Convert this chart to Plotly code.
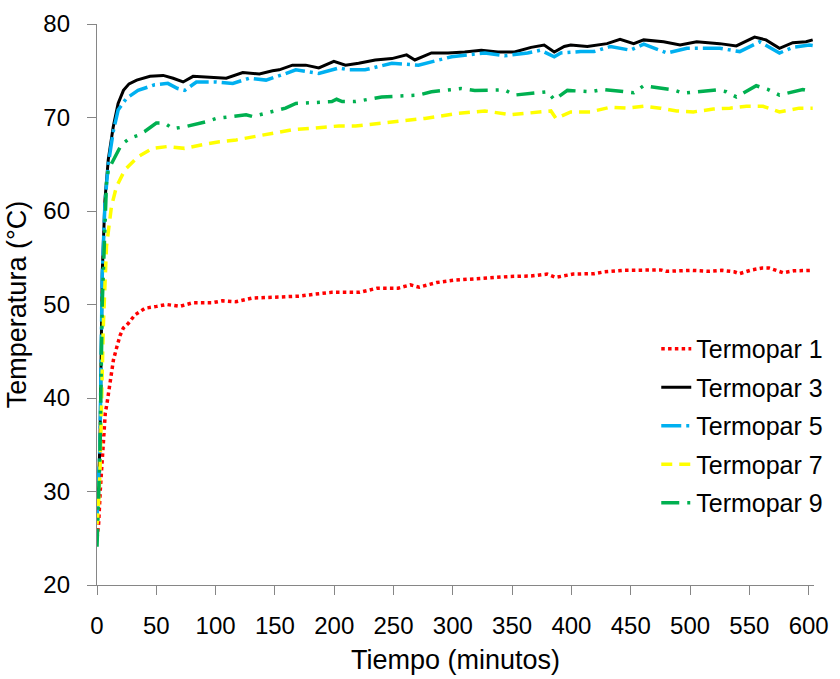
import plotly.graph_objects as go

# ---- data ----
t_tp1 = [0, 1.4, 2.8, 4.2, 5.6, 7.0, 8.4, 11.1, 13.9, 16.8, 19.5, 22.3, 26.5, 32.1, 40.5, 50.3, 58.7, 69.8,
         81, 97.7, 106, 117, 131, 153.6, 171.3, 183.1, 197.9, 221.5, 236.2, 253.9, 264.2, 271.6, 286.4,
         301.1, 312.9, 327.7, 348.4, 366, 379.4, 386.7, 401.5, 419.2, 428, 442.7, 460.5, 475.2, 479.7,
         501.8, 516.6, 526.9, 537.2, 541.6, 552, 560.8, 566.7, 578.5, 587.4, 596.2, 602.1]
tp1 = [25, 26.6, 30.2, 32.7, 36.2, 38.4, 39.4, 41.7, 44.1, 45.5, 46.7, 47.5, 48.0, 48.9, 49.6, 49.8, 50.0, 49.8,
       50.2, 50.2, 50.4, 50.3, 50.7, 50.8, 50.9, 51.1, 51.3, 51.3, 51.75, 51.75, 52.1, 51.85, 52.35,
       52.6, 52.7, 52.9, 53.0, 53.05, 53.25, 52.9, 53.25, 53.3, 53.5, 53.65, 53.65, 53.7, 53.55,
       53.65, 53.55, 53.65, 53.5, 53.3, 53.7, 53.9, 53.9, 53.4, 53.6, 53.6, 53.65]

t_tp3 = [0, 1, 2.5, 4.4, 6.7, 9.5, 13.7, 17.8, 22.3, 27, 33.5, 44.7, 55.8, 64.2, 72.6, 81, 95, 109, 122.9,
         136.9, 148, 153.6, 164.8, 176, 187, 199.7, 209.5, 220.6, 234.6, 248.6, 261, 268, 282, 296, 310,
         324, 338, 352, 366, 377, 385.5, 393.9, 399.4, 413.4, 430, 441, 452.5, 460.9, 477.7, 491.6,
         505.6, 525, 539, 554.4, 564, 575.4, 586.6, 597.8, 603.4]
tp3 = [28, 30, 35.2, 53.3, 61.2, 65.5, 69.0, 71.5, 72.9, 73.6, 74.0, 74.4, 74.5, 74.2, 73.8, 74.4, 74.3, 74.2, 74.8,
       74.65, 75.0, 75.1, 75.6, 75.6, 75.3, 76.0, 75.6, 75.8, 76.15, 76.3, 76.7, 76.15, 76.9, 76.9, 77.0,
       77.2, 77.0, 77.0, 77.5, 77.75, 77.0, 77.6, 77.75, 77.6, 77.9, 78.35, 77.9, 78.3, 78.1, 77.75,
       78.1, 77.9, 77.65, 78.6, 78.3, 77.4, 78.0, 78.1, 78.3]

t_tp5 = [0, 1, 2.5, 4.4, 6.7, 9.5, 13.7, 17.8, 24.8, 34.6, 48.6, 59.7, 68, 74, 83.8, 100.6, 114.5, 128.5,
         142.5, 159, 167.6, 187, 204, 212, 226, 248.6, 271, 299, 315.6, 327, 343.6, 363, 374, 385.5, 391,
         407.8, 419, 433, 449.7, 460.9, 480.6, 497.4, 525, 541.9, 558.6, 575.4, 586.6, 600.5, 603.4]
tp5 = [27, 29.5, 35, 53, 60.8, 65, 68.5, 70.8, 72.05, 72.9, 73.5, 73.65, 73.1, 72.9, 73.8, 73.8, 73.65, 74.2,
       74.0, 74.7, 75.1, 74.7, 75.3, 75.1, 75.1, 75.8, 75.6, 76.5, 76.7, 76.9, 76.6, 76.9, 77.2, 76.5, 76.9,
       77.05, 77.05, 77.6, 77.2, 77.85, 76.9, 77.4, 77.4, 77.05, 78.1, 76.9, 77.5, 77.75, 77.7]

t_tp7 = [0, 1, 2.5, 4, 5.3, 8, 12.2, 16.4, 23.5, 34.6, 47, 59.7, 73.7, 89.3, 103.3, 117.3, 131.2, 148,
         164.8, 181.5, 204, 218, 248.6, 276.5, 304.5, 327, 349, 371.5, 382.7, 387, 399.4, 416, 433, 446.8,
         460.9, 474.8, 488.8, 502.7, 519.6, 533.5, 547.5, 561.5, 575.4, 592, 603.4]
tp7 = [26.5, 28, 32, 40, 47.6, 56.2, 60.5, 62.6, 64.4, 65.8, 66.7, 66.9, 66.7, 67.1, 67.4, 67.6, 67.95, 68.3,
       68.7, 68.85, 69.1, 69.1, 69.55, 69.9, 70.45, 70.7, 70.3, 70.6, 70.7, 69.9, 70.6, 70.6, 71.1, 71.0,
       71.2, 71.0, 70.7, 70.6, 70.9, 71.0, 71.2, 71.2, 70.6, 71.0, 71.0]

t_tp9 = [0, 2.5, 4.4, 6.5, 8, 9.5, 16.4, 20.6, 27.9, 34.6, 40.2, 50, 57, 64, 73.7, 92.2, 100.6, 125.7,
         131.2, 159, 167.6, 198, 202, 206.7, 218, 231.7, 240, 271, 282, 307, 318.5, 343.6, 352, 380, 385.5,
         396.6, 416, 427, 452.5, 460.9, 486, 494, 522, 530.6, 539, 555.8, 565.6, 575.4, 595, 603.4]
tp9 = [24.1, 34, 50, 58.5, 63.0, 64.4, 66.0, 67.1, 67.8, 68.1, 68.5, 69.4, 69.4, 68.8, 69.0, 69.55, 69.9, 70.3,
       70.1, 71.0, 71.5, 71.7, 71.95, 71.7, 71.7, 72.05, 72.2, 72.4, 72.75, 73.1, 72.9, 72.95, 72.4, 72.75, 71.9,
       72.9, 72.75, 73.0, 72.65, 73.4, 72.95, 72.6, 72.95, 72.75, 72.2, 73.4, 73.0, 72.4, 73.0, 72.75]

names = ["Termopar 1", "Termopar 3", "Termopar 5", "Termopar 7", "Termopar 9"]
x_ticks = [0, 50, 100, 150, 200, 250, 300, 350, 400, 450, 500, 550, 600]
y_ticks = [20, 30, 40, 50, 60, 70, 80]

series = [
    (t_tp1, tp1, "#FF0000", "3.5px,3.3px", 3.5),
    (t_tp3, tp3, "#000000", "solid", 3),
    (t_tp5, tp5, "#00B0F0", "20px,5px,3px,5px", 3.5),
    (t_tp7, tp7, "#FFFF00", "11px,7px", 3.5),
    (t_tp9, tp9, "#00B050", "18px,8px,3px,8px,3px,8px", 3.5),
]

FONT = "Liberation Sans, Arial, sans-serif"
fig = go.Figure()
for name, (tx, ty, col, dash, w) in zip(names, series):
    fig.add_trace(go.Scatter(x=tx, y=ty, mode="lines", name=name, legendgroup=name,
                             line=dict(color=col, dash=dash, width=w)))

axis_col = "#868686"
fig.update_layout(
    width=840, height=679,
    margin=dict(l=97, r=22, t=24, b=94),
    paper_bgcolor="white", plot_bgcolor="white",
    font=dict(family=FONT, color="#000000", size=23),
    showlegend=True,
    legend=dict(x=0.78, y=0.4617, xanchor="left", yanchor="top", font=dict(size=25, family=FONT),
                tracegroupgap=3, bgcolor="rgba(0,0,0,0)", borderwidth=0),
    xaxis=dict(range=[0, 604.5], tickvals=x_ticks, showgrid=False, zeroline=False,
               showline=True, linecolor=axis_col, linewidth=1.3, automargin=False,
               ticks="outside", ticklen=9, tickwidth=1.3, tickcolor=axis_col,
               ticklabelstandoff=10, tickfont=dict(size=24),
               title=dict(text="Tiempo (minutos)", font=dict(size=27), standoff=12)),
    yaxis=dict(range=[20, 80], tickvals=y_ticks, showgrid=False, zeroline=False,
               showline=True, linecolor=axis_col, linewidth=1.3, automargin=False,
               ticks="outside", ticklen=9, tickwidth=1.3, tickcolor=axis_col,
               ticklabelstandoff=12, tickfont=dict(size=24),
               title=dict(text="Temperatura (°C)", font=dict(size=27), standoff=8)),
)

fig.write_html("out.html")
